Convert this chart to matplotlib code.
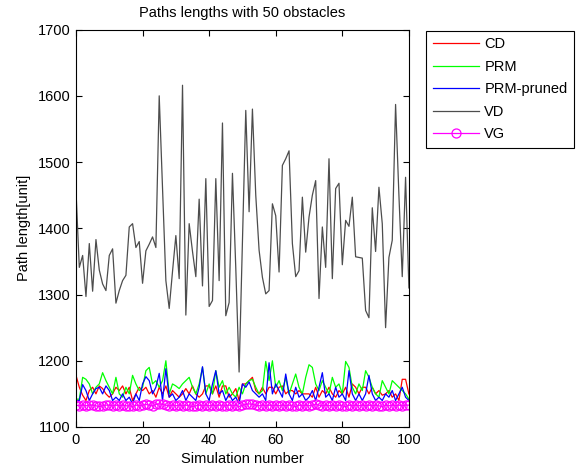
import matplotlib
matplotlib.use('Agg')
import matplotlib.pyplot as plt
import numpy as np

plt.rcParams['font.family'] = ['Liberation Sans', 'DejaVu Sans']

# ---- data ----
sim = np.arange(0, 101)

cd = [1178, 1160, 1148, 1140, 1155, 1160, 1150, 1162, 1158, 1150,
      1145, 1150, 1160, 1155, 1162, 1150, 1160, 1140, 1150, 1160,
      1155, 1160, 1150, 1155, 1145, 1160, 1150, 1162, 1145, 1155,
      1150, 1145, 1150, 1158, 1150, 1162, 1150, 1145, 1150, 1162,
      1162, 1150, 1162, 1145, 1162, 1162, 1145, 1150, 1158, 1140,
      1165, 1165, 1170, 1175, 1155, 1150, 1160, 1150, 1160, 1160,
      1150, 1160, 1162, 1150, 1155, 1155, 1150, 1155, 1150, 1150,
      1150, 1145, 1160, 1145, 1155, 1150, 1160, 1150, 1145, 1155,
      1150, 1160, 1145, 1165, 1160, 1150, 1160, 1160, 1150, 1160,
      1150, 1155, 1148, 1150, 1155, 1145, 1150, 1140, 1172, 1172,
      1150]

prm = [1142, 1142, 1175, 1172, 1165, 1150, 1160, 1165, 1182, 1170,
       1160, 1150, 1175, 1150, 1145, 1160, 1150, 1178, 1165, 1155,
       1160, 1185, 1190, 1165, 1170, 1160, 1170, 1200, 1150, 1165,
       1162, 1158, 1165, 1170, 1175, 1160, 1150, 1165, 1190, 1150,
       1165, 1150, 1185, 1160, 1170, 1150, 1160, 1150, 1145, 1160,
       1150, 1165, 1170, 1172, 1160, 1150, 1155, 1199, 1170, 1200,
       1160, 1170, 1155, 1175, 1150, 1165, 1180, 1160, 1150, 1175,
       1194, 1190, 1165, 1155, 1170, 1160, 1150, 1175, 1160, 1165,
       1150, 1199, 1190, 1160, 1150, 1165, 1155, 1185, 1175, 1160,
       1150, 1145, 1170, 1160, 1150, 1170, 1165, 1160, 1155, 1150,
       1142]

prm_pruned = [1140, 1140, 1164, 1155, 1140, 1150, 1158, 1160, 1150, 1162,
              1155, 1140, 1145, 1140, 1150, 1140, 1145, 1135, 1150, 1140,
              1165, 1176, 1170, 1150, 1160, 1181, 1140, 1188, 1145, 1150,
              1140, 1145, 1155, 1140, 1150, 1145, 1140, 1160, 1191, 1150,
              1140, 1165, 1185, 1150, 1155, 1140, 1150, 1140, 1145, 1135,
              1165, 1160, 1168, 1155, 1150, 1145, 1150, 1140, 1197, 1150,
              1165, 1155, 1145, 1180, 1150, 1140, 1160, 1145, 1150, 1140,
              1145, 1155, 1140, 1160, 1182, 1145, 1150, 1140, 1160, 1145,
              1150, 1140, 1185, 1150, 1140, 1150, 1140, 1150, 1178, 1150,
              1140, 1145, 1140, 1150, 1145, 1155, 1140, 1150, 1160, 1145,
              1140]

vd = [1457, 1341, 1359, 1297, 1377, 1305, 1383, 1337, 1316, 1306,
      1359, 1369, 1287, 1306, 1321, 1329, 1402, 1407, 1371, 1380,
      1317, 1366, 1376, 1387, 1371, 1600, 1460, 1321, 1279, 1335,
      1389, 1324, 1616, 1269, 1407, 1365, 1327, 1444, 1313, 1475,
      1282, 1291, 1475, 1321, 1559, 1268, 1288, 1483, 1340, 1183,
      1380, 1578, 1425, 1580, 1450, 1367, 1326, 1301, 1306, 1437,
      1419, 1334, 1495, 1505, 1517, 1377, 1327, 1336, 1447, 1364,
      1417, 1450, 1472, 1294, 1402, 1341, 1505, 1324, 1460, 1468,
      1345, 1412, 1403, 1447, 1357, 1356, 1355, 1276, 1265, 1431,
      1365, 1462, 1407, 1250, 1356, 1382, 1587, 1450, 1327, 1477,
      1310]

vg = [1133, 1132, 1133, 1132, 1133, 1133, 1132, 1131, 1132, 1133,
      1133, 1132, 1133, 1132, 1133, 1132, 1132, 1131, 1133, 1132,
      1133, 1134, 1133, 1132, 1134, 1135, 1134, 1133, 1132, 1133,
      1132, 1133, 1132, 1133, 1132, 1131, 1132, 1133, 1132, 1133,
      1132, 1133, 1132, 1133, 1132, 1132, 1133, 1132, 1133, 1131,
      1133, 1134, 1135, 1134, 1133, 1132, 1133, 1132, 1133, 1132,
      1133, 1132, 1133, 1132, 1133, 1132, 1131, 1133, 1132, 1133,
      1132, 1133, 1134, 1133, 1132, 1133, 1132, 1133, 1132, 1133,
      1132, 1131, 1133, 1132, 1133, 1132, 1133, 1132, 1133, 1132,
      1133, 1132, 1131, 1133, 1132, 1133, 1132, 1133, 1132, 1133,
      1133]

# ---- figure ----
fig = plt.figure(figsize=(5.8, 4.7), dpi=100)
ax = fig.add_axes([0.131, 0.0915, 0.574, 0.8455])

lw = 0.9
ax.plot(sim, cd, color='#ff0000', lw=lw, label='CD')
ax.plot(sim, prm, color='#00ff00', lw=lw, label='PRM')
ax.plot(sim, prm_pruned, color='#0000ff', lw=lw, label='PRM-pruned')
ax.plot(sim, vd, color='#4d4d4d', lw=lw, label='VD')
ax.plot(sim, vg, color='#ff00ff', lw=lw, marker='o', markersize=6.5,
        markerfacecolor='none', markeredgewidth=0.9, label='VG')

ax.set_xlim(0, 100)
ax.set_ylim(1100, 1700)
ax.set_xticks(range(0, 101, 20))
ax.set_yticks(range(1100, 1701, 100))
ax.tick_params(direction='in', length=4, width=0.8, top=True, right=True,
               labelsize=10.5, pad=4)
for sp in ax.spines.values():
    sp.set_linewidth(0.8)

ax.set_title('Paths lengths with 50 obstacles', fontsize=10.5, pad=9)
ax.set_xlabel('Simulation number', fontsize=10.5, labelpad=4)
ax.set_ylabel('Path length[unit]', fontsize=10.5, labelpad=5)

leg = ax.legend(loc='upper left', bbox_to_anchor=(0.7345, 0.9347),
                bbox_transform=fig.transFigure, borderaxespad=0,
                fontsize=10.5, fancybox=False, framealpha=1,
                handlelength=3.2, handletextpad=0.35, labelspacing=0.58,
                borderpad=0.45)
leg.get_frame().set_edgecolor('black')
leg.get_frame().set_linewidth(0.8)

fig.savefig('out.png', dpi=100)
